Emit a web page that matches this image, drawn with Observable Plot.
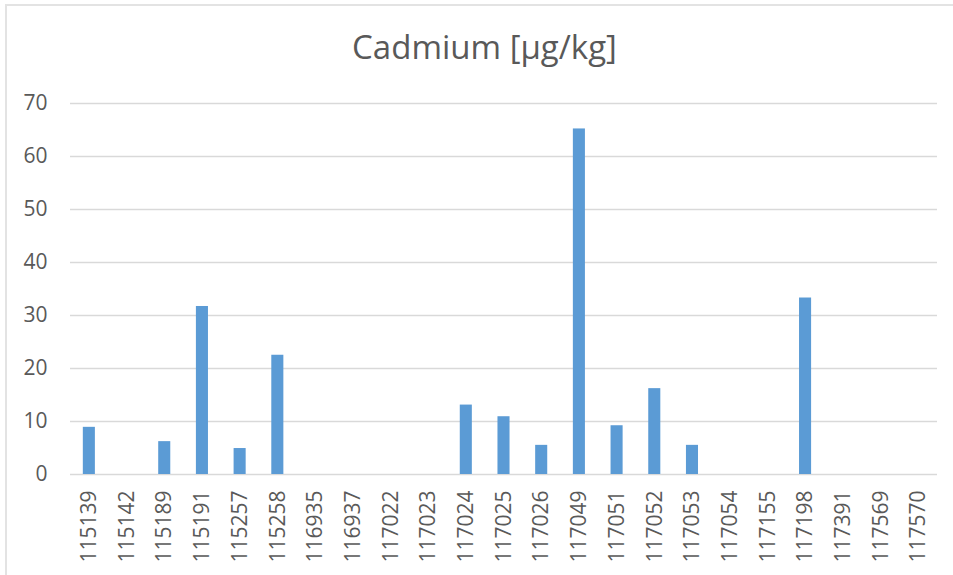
<!DOCTYPE html>
<html>
<head>
<meta charset="utf-8">
<script src="https://cdn.jsdelivr.net/npm/d3@7"></script>
<script src="https://cdn.jsdelivr.net/npm/@observablehq/plot@0.6"></script>
<style>
  html, body { margin: 0; padding: 0; background: #fff; }
  #wrap { position: relative; width: 953px; height: 575px; overflow: hidden; font-family: "Open Sans", sans-serif; }
  #frame { position: absolute; left: 5px; top: 4px; width: 960px; height: 600px; border-left: 2px solid #e3e3e3; border-top: 2px solid #e3e3e3; box-sizing: border-box; }
  #title { position: absolute; left: 8px; width: 953px; top: 25px; text-align: center; font-size: 33px; line-height: 44px; color: #595959; }
  #chart { position: absolute; left: 0; top: 0; }
</style>
</head>
<body>
<div id="wrap">
  <div id="frame"></div>
  <div id="chart"></div>
  <div id="title">Cadmium [µg/kg]</div>
</div>
<script>
const categories = ["115139","115142","115189","115191","115257","115258","116935","116937","117022","117023","117024","117025","117026","117049","117051","117052","117053","117054","117155","117198","117391","117569","117570"];
const values = [8.9, 0, 6.2, 31.7, 4.9, 22.5, 0, 0, 0, 0, 13.1, 10.9, 5.5, 65.2, 9.2, 16.2, 5.5, 0, 0, 33.3, 0, 0, 0];
const yTicks = [0, 10, 20, 30, 40, 50, 60, 70];

const data = categories.map((c, i) => ({cat: c, v: values[i]}));

const chart = Plot.plot({
  width: 953,
  height: 575,
  marginLeft: 70,
  marginRight: 16,
  marginTop: 103,
  marginBottom: 101,
  style: {fontFamily: "Open Sans, sans-serif", fontSize: "21px", color: "#595959", background: "transparent"},
  x: {domain: categories, paddingInner: 0.68, paddingOuter: 0.34, round: false, label: null},
  y: {domain: [0, 70], label: null},
  marks: [
    Plot.gridY(yTicks, {stroke: "#d9d9d9", strokeOpacity: 1, strokeWidth: 1.5}),
    Plot.barY(data, {x: "cat", y: "v", fill: "#5b9bd5"}),
    Plot.axisY({ticks: yTicks, tickSize: 0, tickPadding: 23, fill: "#595959", fontSize: 21, label: null}),
    Plot.axisX({tickSize: 0, tickRotate: -90, tickPadding: 16, fill: "#595959", fontSize: 21, label: null})
  ]
});
document.getElementById("chart").appendChild(chart);
</script>
</body>
</html>
